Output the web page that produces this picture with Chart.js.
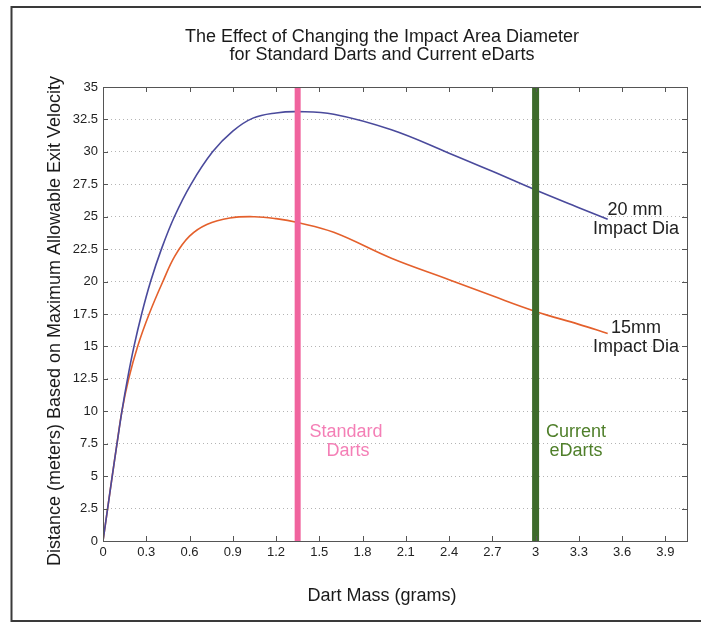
<!DOCTYPE html>
<html><head><meta charset="utf-8">
<script src="https://cdn.jsdelivr.net/npm/chart.js@4.4.1/dist/chart.umd.min.js"></script>
<style>html,body{margin:0;padding:0;background:#fff;}#wrap{width:701px;height:624px;position:relative;}</style>
</head><body><div id="wrap"><canvas id="c" width="701" height="624"></canvas></div>
<script>
// ---- data ----
const massTicks = [0,0.3,0.6,0.9,1.2,1.5,1.8,2.1,2.4,2.7,3,3.3,3.6,3.9];
const massTickLabels = ['0','0.3','0.6','0.9','1.2','1.5','1.8','2.1','2.4','2.7','3','3.3','3.6','3.9'];
const distTicks = [0,2.5,5,7.5,10,12.5,15,17.5,20,22.5,25,27.5,30,32.5,35];
const distTickLabels = ['0','2.5','5','7.5','10','12.5','15','17.5','20','22.5','25','27.5','30','32.5','35'];

const mass20 = [0,0.032,0.064,0.097,0.131,0.17,0.215,0.268,0.33,0.405,0.495,0.61,0.76,0.9,1.04,1.2,1.35,1.6,2.0,2.4,2.7,3.0,3.3,3.5];
const dist20 = [0,2.5,5,7.5,10,12.5,15,17.5,20,22.5,25,27.5,30,31.6,32.6,33.0,33.1,32.9,31.7,29.9,28.5,27.06,25.7,24.8];

const mass15 = [0,0.032,0.064,0.097,0.131,0.178,0.24,0.32,0.415,0.5,0.6,0.72,0.88,1.05,1.2,1.35,1.6,2.0,2.4,2.7,3.0,3.3,3.5];
const dist15 = [0,2.5,5,7.5,10,12.5,15,17.5,20,22.0,23.5,24.4,24.9,25.0,24.85,24.55,23.8,21.8,20.15,18.9,17.7,16.7,16.0];

const standardMass = 1.35;
const edartMass = 3.0;
const yRange = [0, 35];

const titleLines = ['The Effect of Changing the Impact Area Diameter','for Standard Darts and Current eDarts'];
const xTitle = 'Dart Mass (grams)';
const yTitle = 'Distance (meters) Based on Maximum Allowable Exit Velocity';
const label20 = ['20 mm','Impact Dia'];
const label15 = ['15mm','Impact Dia'];
const labelStd = ['Standard','Darts'];
const labelCur = ['Current','eDarts'];

// ---- chart ----
const pts = (xs, ys) => xs.map((x,i)=>({x:x, y:ys[i]}));
const FONT = '"Liberation Sans", Arial, sans-serif';

const decor = {
  id:'decor',
  afterDraw(chart){
    const ctx = chart.ctx, a = chart.chartArea;
    const xs = chart.scales.x, ys = chart.scales.y;
    ctx.save();
    // outer frame
    ctx.strokeStyle = '#3a3a3a'; ctx.lineWidth = 2;
    ctx.beginPath();
    ctx.moveTo(705,7); ctx.lineTo(11.5,7); ctx.lineTo(11.5,621); ctx.lineTo(705,621);
    ctx.stroke();
    // axes box
    ctx.strokeStyle = '#555'; ctx.lineWidth = 1;
    ctx.strokeRect(a.left+0.5, a.top+0.5, a.right-a.left, a.bottom-a.top);
    // inward ticks
    ctx.beginPath();
    massTicks.forEach(v=>{ const px = Math.round(xs.getPixelForValue(v))+0.5;
      ctx.moveTo(px,a.bottom); ctx.lineTo(px,a.bottom-5);
      ctx.moveTo(px,a.top); ctx.lineTo(px,a.top+5); });
    distTicks.forEach(v=>{ const py = Math.round(ys.getPixelForValue(v))+0.5;
      ctx.moveTo(a.left,py); ctx.lineTo(a.left+5,py);
      ctx.moveTo(a.right,py); ctx.lineTo(a.right-5,py); });
    ctx.stroke();
    // titles
    ctx.fillStyle = '#1a1a1a';
    ctx.textAlign = 'center'; ctx.textBaseline = 'middle';
    ctx.font = '18px ' + FONT;
    ctx.fillText(titleLines[0], 382, 37);
    ctx.fillText(titleLines[1], 382, 55);
    ctx.fillText(xTitle, 382, 596);
    ctx.save();
    ctx.translate(55, 321); ctx.rotate(-Math.PI/2);
    ctx.fillText(yTitle, 0, 0);
    ctx.restore();
    // curve labels
    ctx.fillStyle = '#222';
    ctx.fillText(label20[0], 635, 210);
    ctx.fillText(label20[1], 636, 229);
    ctx.fillText(label15[0], 636, 328);
    ctx.fillText(label15[1], 636, 347);
    // line labels
    ctx.fillStyle = '#f47fb6';
    ctx.fillText(labelStd[0], 346, 432);
    ctx.fillText(labelStd[1], 348, 451);
    ctx.fillStyle = '#4f7f2a';
    ctx.fillText(labelCur[0], 576, 432);
    ctx.fillText(labelCur[1], 576, 451);
    ctx.restore();
  }
};

new Chart(document.getElementById('c'), {
  type:'line',
  data:{ datasets:[
    {data:pts([standardMass,standardMass], yRange), borderColor:'#f0649e', borderWidth:6, pointRadius:0, borderCapStyle:'butt'},
    {data:pts([edartMass,edartMass], yRange), borderColor:'#3d6a2b', borderWidth:7, pointRadius:0, borderCapStyle:'butt'},
    {data:pts(mass20, dist20), borderColor:'#4a4a9c', borderWidth:1.6, pointRadius:0, tension:0.4},
    {data:pts(mass15, dist15), borderColor:'#e4602c', borderWidth:1.6, pointRadius:0, tension:0.4}
  ]},
  options:{
    responsive:false, animation:false, devicePixelRatio:1,
    layout:{padding:{left:0,right:14,top:87,bottom:0}},
    plugins:{legend:{display:false}, tooltip:{enabled:false}, title:{display:false}},
    scales:{
      x:{type:'linear', min:0, max:4.05,
        afterBuildTicks:s=>{s.ticks = massTicks.map(v=>({value:v}));},
        afterFit:s=>{s.height = 83;},
        grid:{display:false, drawTicks:false}, border:{display:false},
        ticks:{autoSkip:false, maxRotation:0, padding:4, color:'#222', font:{size:13, family:FONT},
          callback:(v,i)=>massTickLabels[i]}},
      y:{type:'linear', min:0, max:35,
        afterBuildTicks:s=>{s.ticks = distTicks.map(v=>({value:v}));},
        afterFit:s=>{s.width = 103;},
        grid:{color:'#b4b4b4', lineWidth:1, drawTicks:false}, border:{display:false, dash:[1,3]},
        ticks:{autoSkip:false, padding:5, color:'#222', font:{size:13, family:FONT},
          callback:(v,i)=>distTickLabels[i]}}
    }
  },
  plugins:[decor]
});
</script></body></html>
